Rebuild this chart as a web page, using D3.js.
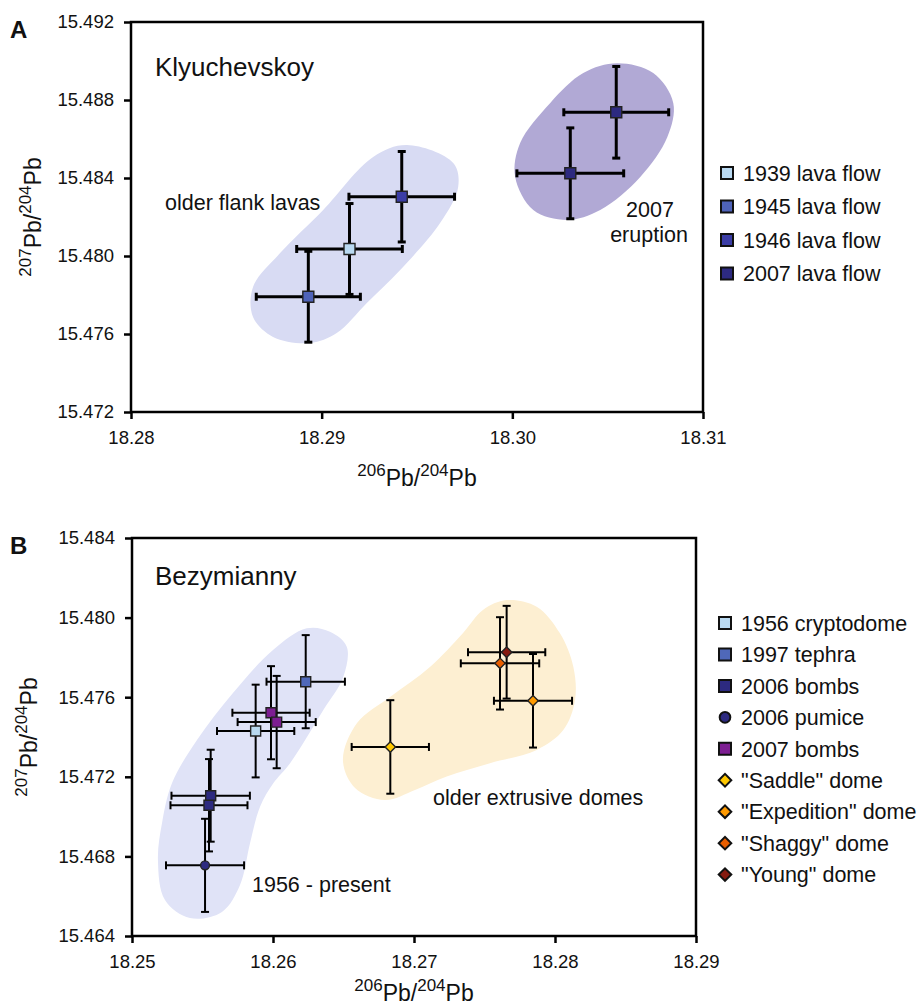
<!DOCTYPE html>
<html>
<head>
<meta charset="utf-8">
<script src="https://cdn.jsdelivr.net/npm/d3@7"></script>
<style>
  body { margin: 0; background: #fff; }
  text { font-family: "Liberation Sans", Arial, sans-serif; fill: #111; }
</style>
</head>
<body>
<svg id="chart" width="917" height="1007"></svg>
<script>
// ---- data: Klyuchevskoy (panel A) ----
const klyuSeries = ["1939 lava flow", "1945 lava flow", "1946 lava flow", "2007 lava flow"];
const klyuX    = [18.29146, 18.28930, 18.29420, 18.30545, 18.30304];
const klyuY    = [15.48036, 15.47791, 15.48304, 15.48737, 15.48424];
const klyuXerr = [0.00277, 0.00273, 0.00277, 0.00275, 0.00280];
const klyuYerr = [0.00233, 0.00233, 0.00232, 0.00235, 0.00233];
const klyuSeriesOf = [0, 1, 2, 3, 3];
const klyuXTicks = [18.28, 18.29, 18.30, 18.31];
const klyuYTicks = [15.472, 15.476, 15.480, 15.484, 15.488, 15.492];

// outlines of the shaded fields, in data units
const flankField = [[18.29447,15.48569],[18.29690,15.48477],[18.29716,15.48354],[18.29621,15.48169],
  [18.29412,15.47928],[18.29237,15.47759],[18.29079,15.47605],[18.28939,15.47554],[18.28745,15.47585],
  [18.28640,15.47687],[18.28640,15.47841],[18.28782,15.48015],[18.29008,15.48236],[18.29270,15.48508]];
const eruptionField = [[18.30549,15.48988],[18.30739,15.48938],[18.30844,15.48785],[18.30813,15.48610],
  [18.30671,15.48405],[18.30461,15.48236],[18.30286,15.48185],[18.30110,15.48236],[18.30015,15.48405],
  [18.30041,15.48579],[18.30199,15.48785],[18.30372,15.48938]];

// ---- data: Bezymianny (panel B) ----
const bezySeries = ["1956 cryptodome", "1997 tephra", "2006 bombs", "2006 pumice", "2007 bombs",
  "\"Saddle\" dome", "\"Expedition\" dome", "\"Shaggy\" dome", "\"Young\" dome"];
const bezyX    = [18.25877, 18.26232, 18.25558, 18.25546, 18.25518, 18.25986, 18.26026, 18.26832, 18.27844, 18.27610, 18.27657];
const bezyY    = [15.47430, 15.47678, 15.47105, 15.47057, 15.46755, 15.47522, 15.47475, 15.47350, 15.47582, 15.47770, 15.47826];
const bezyXerr = [0.00274, 0.00278, 0.00278, 0.00273, 0.00277, 0.00274, 0.00277, 0.00274, 0.00277, 0.00278, 0.00274];
const bezyYerr = [0.00233, 0.00234, 0.00231, 0.00232, 0.00234, 0.00234, 0.00232, 0.00235, 0.00235, 0.00232, 0.00233];
const bezySeriesOf = [0, 1, 2, 2, 3, 4, 4, 5, 6, 7, 8];
const bezyXTicks = [18.25, 18.26, 18.27, 18.28, 18.29];
const bezyYTicks = [15.464, 15.468, 15.472, 15.476, 15.480, 15.484];

const recentField = [[18.26239,15.47946],[18.26404,15.47929],[18.26523,15.47854],[18.26499,15.47703],
  [18.26357,15.47536],[18.26121,15.47268],[18.26002,15.47167],[18.25908,15.47050],[18.25837,15.46866],
  [18.25766,15.46656],[18.25638,15.46521],[18.25411,15.46490],[18.25234,15.46581],[18.25184,15.46782],
  [18.25213,15.46968],[18.25284,15.47169],[18.25461,15.47385],[18.25716,15.47621],[18.26000,15.47837]];
const domesField = [[18.27657,15.48088],[18.27870,15.48055],[18.28035,15.47921],[18.28130,15.47753],
  [18.28142,15.47586],[18.28059,15.47435],[18.27870,15.47335],[18.27539,15.47268],[18.27232,15.47201],
  [18.27007,15.47134],[18.26794,15.47083],[18.26582,15.47144],[18.26496,15.47284],[18.26596,15.47470],
  [18.26830,15.47601],[18.27113,15.47752],[18.27348,15.47923],[18.27489,15.48038]];

// ---- styles ----
const klyuColors = ["#b9d9f1", "#4f63b9", "#3b3da6", "#2d2a80"];
const bezyColors = ["#b9d9f1", "#4f68b9", "#2d2a80", "#2d2a80", "#7d1e92", "#ffc800", "#ff9a00", "#e85e00", "#861a10"];
const bezyShapes = ["square", "square", "square", "circle", "square", "diamond", "diamond", "diamond", "diamond"];

const svg = d3.select("#chart");

function isoLabel(text, a) {
  text.append("tspan").attr("font-size", 17).attr("dy", -10).text(a);
  text.append("tspan").attr("font-size", 23).attr("dy", 10).text("Pb/");
  text.append("tspan").attr("font-size", 17).attr("dy", -10).text("204");
  text.append("tspan").attr("font-size", 23).attr("dy", 10).text("Pb");
}

function symbolPath(shape, s) {
  if (shape === "circle") return d3.symbol(d3.symbolCircle, s * s * 0.62)();
  if (shape === "diamond") return d3.symbol(d3.symbolSquare, s * s * 0.55)();
  return d3.symbol(d3.symbolSquare, s * s)();
}

function drawPanel(cfg) {
  const g = svg.append("g");
  const x = d3.scaleLinear().domain(cfg.xDomain).range([cfg.left, cfg.right]);
  const y = d3.scaleLinear().domain(cfg.yDomain).range([cfg.bottom, cfg.top]);

  const field = d3.line()
    .x(d => x(d[0]))
    .y(d => y(d[1]))
    .curve(d3.curveCatmullRomClosed.alpha(0.5));

  cfg.fields.forEach(f => {
    g.append("path").attr("d", field(f.pts)).attr("fill", f.color);
  });

  // annotations
  cfg.notes.forEach(n => {
    g.append("text")
      .attr("x", n.x).attr("y", n.y)
      .attr("font-size", n.size)
      .attr("text-anchor", n.anchor || "start")
      .text(n.text);
  });

  // error bars + markers
  const pts = cfg.xs.map((v, i) => ({
    x: v, y: cfg.ys[i], ex: cfg.xerr[i], ey: cfg.yerr[i], s: cfg.seriesOf[i]
  }));
  const cap = cfg.cap;
  const bars = g.append("g")
    .attr("stroke", "#000")
    .attr("stroke-width", cfg.barWidth);

  pts.forEach(d => {
    const cx = x(d.x), cy = y(d.y);
    const x0 = x(d.x - d.ex), x1 = x(d.x + d.ex);
    const y0 = y(d.y - d.ey), y1 = y(d.y + d.ey);
    bars.append("line").attr("x1", x0).attr("x2", x1).attr("y1", cy).attr("y2", cy);
    bars.append("line").attr("x1", x0).attr("x2", x0).attr("y1", cy - cap).attr("y2", cy + cap);
    bars.append("line").attr("x1", x1).attr("x2", x1).attr("y1", cy - cap).attr("y2", cy + cap);
    bars.append("line").attr("x1", cx).attr("x2", cx).attr("y1", y0).attr("y2", y1);
    bars.append("line").attr("x1", cx - cap).attr("x2", cx + cap).attr("y1", y0).attr("y2", y0);
    bars.append("line").attr("x1", cx - cap).attr("x2", cx + cap).attr("y1", y1).attr("y2", y1);
  });

  g.append("g").selectAll("path")
    .data(pts)
    .join("path")
    .attr("d", d => symbolPath(cfg.shapes[d.s], cfg.markerSize))
    .attr("transform", d => `translate(${x(d.x)},${y(d.y)})` + (cfg.shapes[d.s] === "diamond" ? " rotate(45)" : ""))
    .attr("fill", d => cfg.colors[d.s])
    .attr("stroke", "#222")
    .attr("stroke-width", 1.4);

  // axes
  const xAxis = g.append("g")
    .attr("transform", `translate(0,${cfg.bottom})`)
    .call(d3.axisBottom(x).tickValues(cfg.xTicks).tickFormat(d3.format(".2f")).tickSize(7).tickPadding(12));
  const yAxis = g.append("g")
    .attr("transform", `translate(${cfg.left},0)`)
    .call(d3.axisLeft(y).tickValues(cfg.yTicks).tickFormat(d3.format(".3f")).tickSize(7).tickPadding(10));
  [xAxis, yAxis].forEach(a => {
    a.select(".domain").remove();
    a.selectAll("line").attr("stroke", "#000").attr("stroke-width", 2.5);
    a.selectAll("text").attr("font-size", 18.5).attr("fill", "#111")
      .style("font-family", "'Liberation Sans', Arial, sans-serif");
  });

  g.append("rect")
    .attr("x", cfg.left).attr("y", cfg.top)
    .attr("width", cfg.right - cfg.left).attr("height", cfg.bottom - cfg.top)
    .attr("fill", "none").attr("stroke", "#000").attr("stroke-width", 2.5);

  // axis titles
  isoLabel(g.append("text")
    .attr("x", (cfg.left + cfg.right) / 2).attr("y", cfg.xTitleY)
    .attr("text-anchor", "middle"), "206");
  isoLabel(g.append("text")
    .attr("transform", `translate(${cfg.yTitleX},${(cfg.top + cfg.bottom) / 2}) rotate(-90)`)
    .attr("text-anchor", "middle"), "207");

  // panel letter
  g.append("text")
    .attr("x", 10).attr("y", cfg.top + 16)
    .attr("font-size", 24).attr("font-weight", "bold")
    .text(cfg.letter);

  // legend
  const leg = g.append("g").attr("transform", `translate(${cfg.legX},${cfg.legY})`);
  const row = leg.selectAll("g")
    .data(cfg.series)
    .join("g")
    .attr("transform", (d, i) => `translate(0,${i * cfg.legStep})`);
  row.append("path")
    .attr("d", (d, i) => symbolPath(cfg.shapes[i], 12))
    .attr("transform", (d, i) => cfg.shapes[i] === "diamond" ? "rotate(45)" : null)
    .attr("fill", (d, i) => cfg.colors[i])
    .attr("stroke", "#111")
    .attr("stroke-width", 2);
  row.append("text")
    .attr("x", cfg.legTextDx)
    .attr("dy", "0.36em")
    .attr("font-size", 21.5)
    .text(d => d);
}

drawPanel({
  letter: "A",
  left: 131, right: 703, top: 22, bottom: 412,
  xDomain: [18.28, 18.31], yDomain: [15.472, 15.492],
  xTicks: klyuXTicks, yTicks: klyuYTicks,
  xs: klyuX, ys: klyuY, xerr: klyuXerr, yerr: klyuYerr, seriesOf: klyuSeriesOf,
  series: klyuSeries, colors: klyuColors, shapes: ["square", "square", "square", "square"],
  markerSize: 11, barWidth: 3, cap: 4,
  fields: [{ pts: flankField, color: "#d8dbf3" }, { pts: eruptionField, color: "#b1a9d5" }],
  notes: [
    { text: "Klyuchevskoy", x: 155, y: 76, size: 26 },
    { text: "older flank lavas", x: 165, y: 210, size: 21.5 },
    { text: "2007", x: 650, y: 217, size: 21.5, anchor: "middle" },
    { text: "eruption", x: 649, y: 242, size: 21.5, anchor: "middle" }
  ],
  xTitleY: 486, yTitleX: 41,
  legX: 727, legY: 173, legStep: 33.5, legTextDx: 16
});

drawPanel({
  letter: "B",
  left: 132, right: 696, top: 538, bottom: 936,
  xDomain: [18.25, 18.29], yDomain: [15.464, 15.484],
  xTicks: bezyXTicks, yTicks: bezyYTicks,
  xs: bezyX, ys: bezyY, xerr: bezyXerr, yerr: bezyYerr, seriesOf: bezySeriesOf,
  series: bezySeries, colors: bezyColors, shapes: bezyShapes,
  markerSize: 10, barWidth: 2, cap: 4,
  fields: [{ pts: recentField, color: "#e0e3f7" }, { pts: domesField, color: "#fdefd2" }],
  notes: [
    { text: "Bezymianny", x: 155, y: 585, size: 26 },
    { text: "1956 - present", x: 252, y: 892, size: 21.5 },
    { text: "older extrusive domes", x: 433, y: 805, size: 21.5 }
  ],
  xTitleY: 1001, yTitleX: 37,
  legX: 725, legY: 623, legStep: 31.45, legTextDx: 16
});
</script>
</body>
</html>
